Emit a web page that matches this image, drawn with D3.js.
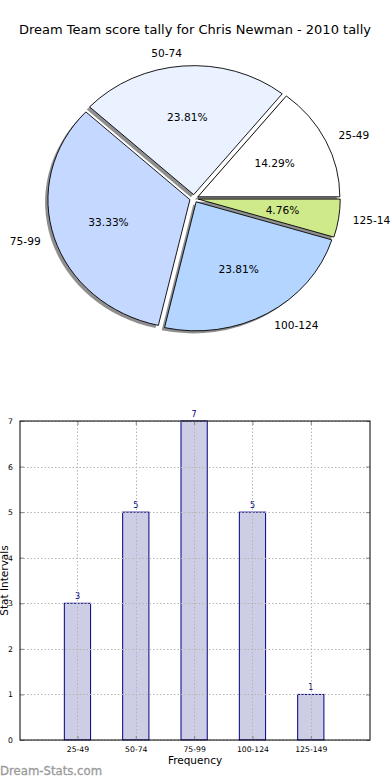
<!DOCTYPE html>
<html>
<head>
<meta charset="utf-8">
<script src="https://cdn.jsdelivr.net/npm/d3@7"></script>
<style>
  html, body { margin: 0; padding: 0; background: #fff; }
  svg { display: block; font-family: "DejaVu Sans", sans-serif; }
</style>
</head>
<body>
<svg id="chart" width="390" height="780"></svg>
<script>
// ---- data ----
const categories = ["25-49", "50-74", "75-99", "100-124", "125-149"];
const counts = [3, 5, 7, 5, 1];
const sliceColors = ["#ffffff", "#eaf1ff", "#c5d8ff", "#b3d5ff", "#cfea8a"];
const yTicks = [0, 1, 2, 3, 4, 5, 6, 7];
const titleText = "Dream Team score tally for Chris Newman - 2010 tally";
const xAxisTitle = "Frequency";
const yAxisTitle = "Stat Intervals";
const watermark = "Dream-Stats.com";

const svg = d3.select("#chart");

// title
svg.append("text").attr("x", 195).attr("y", 33.5).attr("text-anchor", "middle")
  .attr("font-size", 13).attr("fill", "#000").text(titleText);

// ---- pie (elliptical, matplotlib style) ----
const cx = 194, cy = 198.5, rx = 142, ry = 129, R = 100;
const explode = 0.03, labelDist = 1.1, pctDist = 0.6;
const total = d3.sum(counts);
const pie = d3.pie().sort(null).value(d => d)
  .startAngle(Math.PI / 2).endAngle(Math.PI / 2 - 2 * Math.PI);
const arcs = pie(counts);
const arcGen = d3.arc().innerRadius(0).outerRadius(R);

const pieG = svg.append("g").attr("transform", `translate(${cx},${cy}) scale(${rx / R},${ry / R})`);
const shadowG = pieG.append("g");
const wedgeG = pieG.append("g");

arcs.forEach((a, i) => {
  const mid = (a.startAngle + a.endAngle) / 2;
  const ux = Math.sin(mid), uy = -Math.cos(mid);
  const ox = ux * explode * R, oy = uy * explode * R;
  shadowG.append("path").attr("d", arcGen(a))
    .attr("transform", `translate(${ox - 0.02 * R},${oy + 0.02 * R})`)
    .attr("fill", "#333").attr("fill-opacity", 0.55);
  wedgeG.append("path").attr("d", arcGen(a))
    .attr("transform", `translate(${ox},${oy})`)
    .attr("fill", sliceColors[i]).attr("stroke", "#000")
    .attr("stroke-width", 0.9).attr("vector-effect", "non-scaling-stroke")
    .attr("stroke-linejoin", "miter");
  // labels (pixel coordinates)
  const lx = cx + ux * (explode + labelDist) * rx;
  const ly = cy + uy * (explode + labelDist) * ry;
  svg.append("text").attr("x", lx).attr("y", ly).attr("dy", "0.36em")
    .attr("text-anchor", ux > 0 ? "start" : "end")
    .attr("font-size", 10.6).attr("fill", "#000").text(categories[i]);
  const px = cx + ux * (explode + pctDist) * rx;
  const py = cy + uy * (explode + pctDist) * ry;
  svg.append("text").attr("x", px).attr("y", py).attr("dy", "0.36em")
    .attr("text-anchor", "middle")
    .attr("font-size", 10.6).attr("fill", "#000")
    .text((counts[i] / total * 100).toFixed(2) + "%");
});

// ---- bar chart ----
const ax = { left: 20, right: 370, top: 421, bottom: 740 };
const x = d3.scaleLinear().domain([0, 6]).range([ax.left, ax.right]);
const y = d3.scaleLinear().domain([0, 7]).range([ax.bottom, ax.top]);
const barW = 0.45;
const barG = svg.append("g");

categories.forEach((c, i) => {
  const xc = i + 1 - 0.015;
  barG.append("rect")
    .attr("x", x(xc - barW / 2)).attr("y", y(counts[i]))
    .attr("width", x(xc + barW / 2) - x(xc - barW / 2))
    .attr("height", y(0) - y(counts[i]))
    .attr("fill", "#cdcde5").attr("stroke", "#000080").attr("stroke-width", 1);
  svg.append("text").attr("x", x(xc)).attr("y", y(counts[i]) - 4.5)
    .attr("text-anchor", "middle").attr("font-size", 8).attr("fill", "#000080")
    .text(counts[i]);
});

// grid
const gridG = svg.append("g").attr("stroke", "#b4b4b4").attr("stroke-width", 1)
  .attr("stroke-dasharray", "1.5,2");
yTicks.forEach(t => {
  gridG.append("line").attr("x1", ax.left).attr("x2", ax.right)
    .attr("y1", Math.round(y(t)) + 0.5).attr("y2", Math.round(y(t)) + 0.5);
});
categories.forEach((c, i) => {
  const xx = Math.round(x(i + 1 - 0.015)) + 0.5;
  gridG.append("line").attr("x1", xx).attr("x2", xx).attr("y1", ax.top).attr("y2", ax.bottom);
});

// axes via d3 axis (ticks inward)
const xAxis = d3.axisBottom(x).tickValues(categories.map((c, i) => i + 1 - 0.015))
  .tickFormat((d, i) => categories[i]).tickSizeInner(-4).tickSizeOuter(0).tickPadding(7);
const gx = svg.append("g").attr("transform", `translate(0,${ax.bottom})`).call(xAxis);
const gxTop = svg.append("g").attr("transform", `translate(0,${ax.top})`)
  .call(d3.axisTop(x).tickValues(categories.map((c, i) => i + 1 - 0.015)).tickFormat("").tickSizeInner(-4).tickSizeOuter(0));
const yAxis = d3.axisLeft(y).tickValues(yTicks).tickFormat(d3.format("d"))
  .tickSizeInner(-4).tickSizeOuter(0).tickPadding(7);
const gy = svg.append("g").attr("transform", `translate(${ax.left},0)`).call(yAxis);
const gyR = svg.append("g").attr("transform", `translate(${ax.right},0)`)
  .call(d3.axisRight(y).tickValues(yTicks).tickFormat("").tickSizeInner(-4).tickSizeOuter(0));
[gx, gxTop, gy, gyR].forEach(g => {
  g.select(".domain").remove();
  g.selectAll(".tick line").attr("stroke", "#888");
  g.selectAll(".tick text").attr("font-size", 7.7).attr("fill", "#000")
    .attr("font-family", "DejaVu Sans, sans-serif");
});

// frame
svg.append("rect").attr("x", ax.left).attr("y", ax.top)
  .attr("width", ax.right - ax.left).attr("height", ax.bottom - ax.top)
  .attr("fill", "none").attr("stroke", "#000").attr("stroke-width", 1);

// axis titles
svg.append("text").attr("x", (ax.left + ax.right) / 2).attr("y", 763.5)
  .attr("text-anchor", "middle").attr("font-size", 10.5).attr("fill", "#000").text(xAxisTitle);
svg.append("text").attr("transform", `translate(8,${(ax.top + ax.bottom) / 2}) rotate(-90)`)
  .attr("text-anchor", "middle").attr("font-size", 10.5).attr("fill", "#000").text(yAxisTitle);

// watermark
svg.append("text").attr("x", 0).attr("y", 775).attr("font-size", 11.7)
  .attr("fill", "#9a9a9a").attr("stroke", "#9a9a9a").attr("stroke-width", 0.3)
  .text(watermark);
</script>
</body>
</html>
